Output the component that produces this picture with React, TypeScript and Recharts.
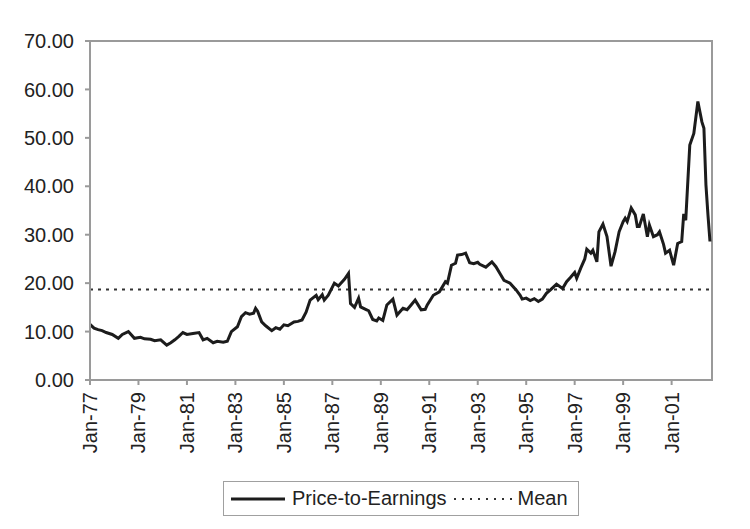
import React from "react";
import {
  LineChart,
  Line,
  XAxis,
  YAxis,
  ReferenceLine,
  ReferenceArea,
} from "recharts";

// months counted from Jan-77
const months = [
  0, 2, 4, 6, 8, 11, 14, 16, 19, 22, 25, 27, 30, 32, 35, 38, 40, 42, 44, 46,
  48, 51, 54, 56, 58, 61, 63, 66, 68, 70, 73, 75, 77, 79, 81, 82, 83, 85, 87,
  90, 92, 94, 96, 98, 101, 103, 105, 107, 109, 112, 113, 115, 116, 118, 121,
  123, 126, 128, 129, 131, 133, 134, 137, 138, 140, 142, 143, 145, 147, 150,
  152, 155, 157, 159, 161, 164, 166, 167, 170, 173, 176, 177, 179, 181, 182,
  184, 186, 188, 190, 192, 193, 196, 199, 201, 203, 205, 208, 211, 213, 214,
  216, 218, 220, 222, 224, 226, 228, 231, 234, 236, 238, 240, 241, 243, 245,
  246, 248, 249, 251, 252, 254, 256, 258, 260, 262, 264, 265, 266, 268, 270,
  271, 272, 274, 276, 277, 279, 281, 282, 284, 285, 287, 289, 291, 293, 294,
  295, 297, 299, 301, 303, 304, 305, 306, 307,
];

const peValues = [
  11.5, 10.7, 10.4, 10.2, 9.8, 9.4, 8.6, 9.4, 10.0, 8.6, 8.8, 8.5, 8.4, 8.1,
  8.3, 7.2, 7.7, 8.3, 9.0, 9.8, 9.4, 9.6, 9.8, 8.3, 8.6, 7.7, 8.0, 7.8, 8.0,
  10.0, 11.0, 13.1, 13.9, 13.6, 13.8, 14.8, 14.2, 12.0, 11.2, 10.2, 10.8, 10.5,
  11.4, 11.2, 12.0, 12.1, 12.4, 14.0, 16.5, 17.5, 16.6, 17.6, 16.5, 17.5, 20.0,
  19.4, 20.8, 22.0, 15.8, 15.0, 16.9, 15.1, 14.5, 14.3, 12.5, 12.2, 12.8, 12.3,
  15.5, 16.7, 13.4, 14.8, 14.5, 15.5, 16.5, 14.5, 14.6, 15.5, 17.5, 18.2, 20.3,
  20.0, 23.7, 24.1, 25.8, 25.9, 26.2, 24.2, 24.0, 24.3, 23.9, 23.3, 24.4, 23.4,
  22.0, 20.6, 20.0, 18.6, 17.5, 16.7, 16.9, 16.4, 16.8, 16.2, 16.7, 17.9, 18.6,
  19.8, 18.9, 20.3, 21.2, 22.2, 21.0, 23.1, 25.0, 27.0, 26.2, 26.8, 24.4, 30.6,
  32.2, 29.6, 23.5, 26.5, 30.6, 32.7, 33.4, 32.7, 35.5, 34.1, 31.7, 31.7, 34.3,
  29.6, 32.0, 29.6, 30.0, 30.6, 28.0, 26.2, 26.8, 23.7, 28.2, 28.6, 34.3, 33.0,
  48.5, 50.9, 57.5, 53.3, 52.0, 40.3, 34.1, 28.6,
];

const meanValue = 18.7;
const yTicks = [0, 10, 20, 30, 40, 50, 60, 70];
const xTicks = [0, 24, 48, 72, 96, 120, 144, 168, 192, 216, 240, 264, 288];

const data = months.map((m, i) => ({ m, pe: peValues[i] }));

const FONT = "'Liberation Sans', Arial, sans-serif";
const AXIS = "#9a9a9a";

const monthLabel = (m: number) => {
  const yr = (77 + Math.floor(m / 12)) % 100;
  return "Jan-" + String(yr).padStart(2, "0");
};

function XTick(props: any) {
  const { x, y, payload } = props;
  return (
    <text
      x={x}
      y={y}
      transform={`rotate(-90, ${x}, ${y})`}
      textAnchor="end"
      dominantBaseline="central"
      fontFamily={FONT}
      fontSize={20}
      fill="#222"
    >
      {monthLabel(payload.value)}
    </text>
  );
}

export default function App() {
  return (
    <div style={{ position: "absolute", left: 0, top: 0, width: 750, height: 529, background: "#fff" }}>
      <LineChart
        width={750}
        height={529}
        data={data}
        margin={{ top: 41, right: 38, left: 0, bottom: 0 }}
      >
        <XAxis
          dataKey="m"
          type="number"
          domain={[0, 308]}
          ticks={xTicks}
          interval={0}
          height={149}
          stroke={AXIS}
          strokeWidth={2}
          tickSize={5}
          tickMargin={7}
          tick={<XTick />}
        />
        <YAxis
          domain={[0, 70]}
          ticks={yTicks}
          width={90}
          stroke={AXIS}
          strokeWidth={2}
          tickSize={5}
          tickMargin={11}
          tickFormatter={(v: number) => v.toFixed(2)}
          tick={{ fill: "#222", fontSize: 20, fontFamily: FONT }}
        />
        <ReferenceArea
          x1={0}
          x2={308}
          y1={0}
          y2={70}
          fill="none"
          stroke={AXIS}
          strokeWidth={2}
        />
        <ReferenceLine
          y={meanValue}
          stroke="#333"
          strokeWidth={2}
          strokeDasharray="3 5"
        />
        <Line
          type="linear"
          dataKey="pe"
          stroke="#1c1c1c"
          strokeWidth={3}
          dot={false}
          isAnimationActive={false}
          name="Price-to-Earnings"
        />
      </LineChart>
      <div
        style={{
          position: "absolute",
          left: 223,
          top: 481,
          width: 356,
          height: 35,
          border: "1px solid #a0a0a0",
          display: "flex",
          alignItems: "center",
          fontFamily: FONT,
          fontSize: 20,
          color: "#222",
          boxSizing: "border-box",
        }}
      >
        <svg width={54} height={6} style={{ marginLeft: 7, marginRight: 7 }}>
          <line x1={0} y1={3} x2={54} y2={3} stroke="#1c1c1c" strokeWidth={3} />
        </svg>
        <span>Price-to-Earnings</span>
        <svg width={58} height={6} style={{ marginLeft: 7, marginRight: 6 }}>
          <line x1={0} y1={3} x2={58} y2={3} stroke="#333" strokeWidth={2} strokeDasharray="2 6" />
        </svg>
        <span>Mean</span>
      </div>
    </div>
  );
}
